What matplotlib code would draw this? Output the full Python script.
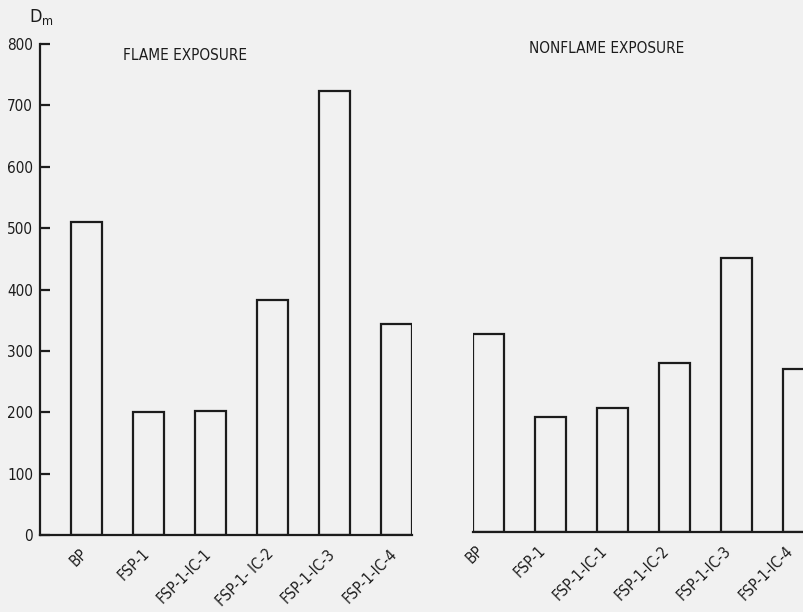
import numpy as np
import matplotlib
matplotlib.use('Agg')
import matplotlib.pyplot as plt
import matplotlib.transforms as mtrans

samples = ['BP', 'FSP-1', 'FSP-1-IC-1', 'FSP-1- IC-2', 'FSP-1-IC-3', 'FSP-1-IC-4']
samples_nf = ['BP', 'FSP-1', 'FSP-1-IC-1', 'FSP-1-IC-2', 'FSP-1-IC-3', 'FSP-1-IC-4']
flame = [510, 200, 202, 383, 723, 344]
nonflame = [322, 187, 202, 275, 447, 265]
yticks = [0, 100, 200, 300, 400, 500, 600, 700, 800]

plt.rcParams['font.family'] = ['DejaVu Sans']
plt.rcParams['font.stretch'] = 'condensed'
ink = '#1c1c1c'
paper = '#f1f1f1'

fig = plt.figure(figsize=(8.04, 6.12), dpi=100, facecolor=paper)

ax1 = fig.add_axes([40 / 804, 77 / 612, 372 / 804, 491 / 612])
ax2 = fig.add_axes([473 / 804, 80 / 612, 341 / 804, 491 / 612])

x = np.arange(len(flame))

# label offsets in pixels (the hand lettering sits a bit left of the bar centres)
for ax, vals, labels, dx in [(ax1, flame, samples, -7), (ax2, nonflame, samples_nf, -13)]:
    ax.set_facecolor('none')
    ax.bar(x, vals, width=0.5, facecolor='none', edgecolor=ink, linewidth=1.6)
    ax.set_ylim(0, 800)
    for s in ['top', 'right']:
        ax.spines[s].set_visible(False)
    ax.spines['bottom'].set_color(ink)
    ax.spines['bottom'].set_linewidth(1.6)
    ax.set_xticks(x)
    ax.set_xticklabels(labels, rotation=45, ha='right', rotation_mode='anchor',
                       fontsize=11, color=ink)
    ax.tick_params(axis='x', length=0, pad=8)
    shift = mtrans.ScaledTranslation(dx / 100, 0, fig.dpi_scale_trans)
    for lab in ax.get_xticklabels():
        lab.set_transform(lab.get_transform() + shift)

ax1.set_xlim(-0.75, 5.25)
ax1.spines['left'].set_color(ink)
ax1.spines['left'].set_linewidth(1.6)
ax1.set_yticks(yticks)
ax1.set_yticklabels([str(v) for v in yticks], fontsize=11, color=ink)
ax1.tick_params(axis='y', direction='in', length=7, width=1.6, color=ink, pad=5)
ax1.text(-0.72, 827, 'D$_\\mathregular{m}$', fontsize=13, color=ink, ha='center', va='bottom')
ax1.text(1.59, 782, 'FLAME EXPOSURE', fontsize=11, color=ink, ha='center', va='center')

ax2.set_xlim(-0.25, 5.25)
ax2.spines['left'].set_visible(False)
ax2.set_yticks([])
ax2.text(1.9, 787, 'NONFLAME EXPOSURE', fontsize=11, color=ink, ha='center', va='center')

fig.savefig('out.png', dpi=100, facecolor=paper)
